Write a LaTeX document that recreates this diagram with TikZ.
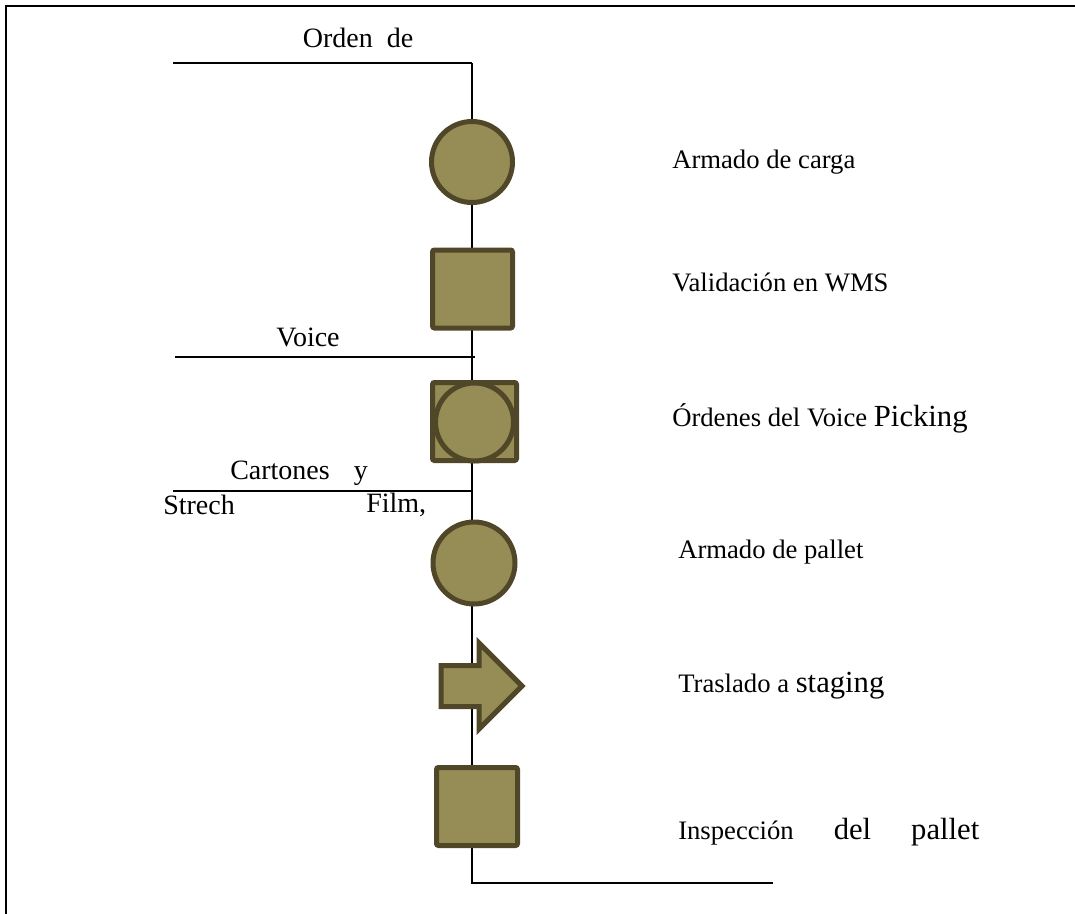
\documentclass[tikz,border=0pt]{standalone}
\usepackage{fontspec}
\setmainfont{Liberation Serif}
\usetikzlibrary{shapes.arrows}
\newlength{\du}
\setlength{\du}{0.75pt}
\definecolor{opfill}{RGB}{150,140,86}
\definecolor{opline}{RGB}{80,71,40}
\newcommand{\bigword}[1]{{\fontsize{23}{26}\selectfont #1}}

\begin{document}
\begin{tikzpicture}[
  opshape/.style={draw=opline,fill=opfill,line width=5\du,inner sep=0pt},
  opbox/.style={opshape,rectangle,rounded corners=2\du},
  flow/.style={draw=black,line width=2\du},
  lbl/.style={anchor=west,inner sep=0pt,font=\fontsize{20}{24}\selectfont},
  inlbl/.style={inner sep=0pt,font=\fontsize{21}{24}\selectfont}
]
\pgftransformxscale{1.000000}
\pgftransformyscale{-1.000000}
\useasboundingbox (0\du,0\du) rectangle (1075\du,914\du);
% page frame
\draw[line width=2.5\du] (6\du,914\du)--(6\du,6\du)--(1075\du,6\du);

% main line
\coordinate (top) at (472\du,63\du);
\coordinate (bend) at (472\du,883\du);
\coordinate (finish) at (773\du,883\du);
\coordinate (inorden) at (173\du,63\du);
\coordinate (invoice) at (175\du,357\du);
\coordinate (joinvoice) at (475\du,357\du);
\coordinate (incarton) at (173\du,491\du);
\coordinate (joincarton) at (472\du,491\du);
\draw[flow] (top)--(bend)--(finish);
\draw[flow] (inorden)--(top);
\draw[flow] (invoice)--(joinvoice);
\draw[flow] (incarton)--(joincarton);

% inputs
\node[inlbl] (orden) at (358\du,38\du) {Orden~~de};
\node[inlbl] (voice) at (308\du,337\du) {Voice};
\node[inlbl,anchor=west] (cartones) at (230\du,473\du) {Cartones\hspace{18pt}y};
\node[inlbl,anchor=west] (strech) at (163\du,505\du) {Strech};
\node[inlbl,anchor=west] (film) at (366\du,505\du) {Film,};

% activities
\node[opshape,circle,minimum size=81\du] (carga) at (472\du,162\du) {};
\node[opbox,minimum width=80\du,minimum height=78\du] (wms) at (472.5\du,289\du) {};
\node[opbox,minimum width=84\du,minimum height=78\du] (ordenes) at (474.5\du,421.5\du) {};
\node[opshape,circle,minimum size=78\du] (ordenesc) at (474.5\du,422\du) {};
\node[opshape,circle,minimum size=82\du] (pallet) at (474\du,563\du) {};
\node[opshape,single arrow,minimum height=81\du,inner sep=18\du,
      single arrow head extend=22.5\du,anchor=tail] (traslado) at (438.5\du,686\du) {};
\node[opbox,minimum width=81\du,minimum height=78\du] (inspeccion) at (477\du,806.5\du) {};

% texts
\node[lbl] (tcarga) at (672\du,162\du) {Armado de carga};
\node[lbl] (twms) at (672\du,282\du) {Validación en WMS};
\node[lbl] (tordenes) at (672\du,418\du) {Órdenes del Voice \bigword{Picking}};
\node[lbl] (tpallet) at (678\du,552\du) {Armado de pallet};
\node[lbl] (ttraslado) at (678\du,686\du) {Traslado a \bigword{staging}};
\node[lbl] (tinspeccion) at (678\du,832\du) {Inspección\hspace{30pt}\bigword{del}\hspace{30pt}\bigword{pallet}};
\end{tikzpicture}
\end{document}
